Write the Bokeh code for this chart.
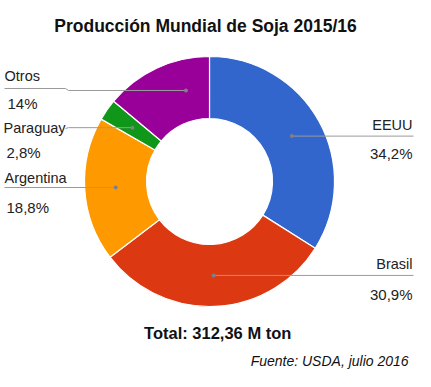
import math
from bokeh.plotting import figure
from bokeh.models import Range1d, ColumnDataSource
from bokeh.core.properties import value
from bokeh.embed import file_html
from bokeh.resources import INLINE

# ---- data ----
countries = ["EEUU", "Brasil", "Argentina", "Paraguay", "Otros"]
shares = [34.2, 30.9, 18.8, 2.8, 14.0]
share_labels = ["34,2%", "30,9%", "18,8%", "2,8%", "14%"]
colors = ["#3366cc", "#dc3912", "#ff9900", "#109618", "#990099"]
title_text = "Producción Mundial de Soja 2015/16"
total_text = "Total: 312,36  M ton"
source_text = "Fuente: USDA,  julio 2016"

# ---- layout (reference pixel coordinates; y measured downward) ----
H = 387
CX, CY = 209, 181
R_OUT, R_IN = 125, 63
R_DOT = 94
FONT = "Liberation Sans"


def Y(y):
    return H - y


p = figure(width=415, height=371, output_backend="svg", toolbar_location=None,
           x_range=Range1d(0, 415), y_range=Range1d(H - 371, H),
           min_border=0, outline_line_color=None)
p.axis.visible = False
p.grid.visible = False
p.background_fill_color = "white"
p.border_fill_color = "white"

tot = sum(shares)
cum = [0.0]
for s in shares:
    cum.append(cum[-1] + s / tot)
start = [math.pi / 2 - 2 * math.pi * cum[i + 1] for i in range(len(shares))]
end = [math.pi / 2 - 2 * math.pi * cum[i] for i in range(len(shares))]
src = ColumnDataSource(dict(start=start, end=end, color=colors))
p.annular_wedge(x=CX, y=Y(CY), inner_radius=R_IN, outer_radius=R_OUT,
                start_angle="start", end_angle="end", direction="anticlock",
                fill_color="color", line_color="white", line_width=1.2, source=src)

# leader anchor angles (clockwise from top); Otros is shifted as in the reference
mids = [(cum[i] + cum[i + 1]) / 2 * 360 for i in range(len(shares))]
anchor_deg = list(mids)
anchor_deg[4] = 345.5
dots_x = [CX + R_DOT * math.sin(math.radians(a)) for a in anchor_deg]
dots_y = [CY - R_DOT * math.cos(math.radians(a)) for a in anchor_deg]

line_col = "#9a9a9a"
# EEUU
p.line([dots_x[0], 413], [Y(dots_y[0]), Y(dots_y[0])], line_color=line_col, line_width=1)
# Brasil
p.line([dots_x[1], 413], [Y(dots_y[1]), Y(dots_y[1])], line_color=line_col, line_width=1)
# Argentina
p.line([4, dots_x[2]], [Y(dots_y[2]), Y(dots_y[2])], line_color=line_col, line_width=1)
# Paraguay
p.line([65, 68, dots_x[3]], [Y(128), Y(dots_y[3]), Y(dots_y[3])], line_color=line_col, line_width=1)
# Otros
p.line([4, 65, 68, dots_x[4]], [Y(88), Y(88), Y(dots_y[4]), Y(dots_y[4])],
       line_color=line_col, line_width=1)
p.scatter(dots_x, [Y(v) for v in dots_y], size=4, fill_color="#808080",
          line_color=None)

txt_col = "#222222"
lab_size = "14.5px"
pct_size = "15px"
# right side labels
right_names = [(countries[0], 124), (countries[1], 263.5)]
right_pcts = [(share_labels[0], 153), (share_labels[1], 293.5)]
p.text(x=[412, 412], y=[Y(v) for _, v in right_names], text=[t for t, _ in right_names],
       text_align="right", text_baseline="middle", text_font=value(FONT),
       text_font_size=lab_size, text_color=txt_col)
p.text(x=[412, 412], y=[Y(v) for _, v in right_pcts], text=[t for t, _ in right_pcts],
       text_align="right", text_baseline="middle", text_font=value(FONT),
       text_font_size=pct_size, text_color=txt_col)
# left side labels
left_names = [(countries[2], 177), (countries[3], 127), (countries[4], 75)]
left_pcts = [(share_labels[2], 206.5), (share_labels[3], 152), (share_labels[4], 103)]
left_x = [4, 3, 4]
pct_x = [6, 6, 7]
p.text(x=left_x, y=[Y(v) for _, v in left_names], text=[t for t, _ in left_names],
       text_align="left", text_baseline="middle", text_font=value(FONT),
       text_font_size=lab_size, text_color=txt_col)
p.text(x=pct_x, y=[Y(v) for _, v in left_pcts], text=[t for t, _ in left_pcts],
       text_align="left", text_baseline="middle", text_font=value(FONT),
       text_font_size=pct_size, text_color=txt_col)

# title, total, source
p.text(x=[205], y=[Y(25)], text=[title_text], text_align="center", text_baseline="middle",
       text_font=value(FONT), text_font_style="bold", text_font_size="17.5px",
       text_color="#111111")
p.text(x=[219.5], y=[Y(332.5)], text=[total_text], text_align="center", text_baseline="middle",
       text_font=value(FONT), text_font_style="bold", text_font_size="16.5px",
       text_color="#111111")
p.text(x=[412], y=[Y(360)], text=[source_text], text_align="right", text_baseline="middle",
       text_font=value(FONT), text_font_style="italic", text_font_size="14px",
       text_color="#111111")

open("out.html", "w").write(file_html(p, INLINE))
